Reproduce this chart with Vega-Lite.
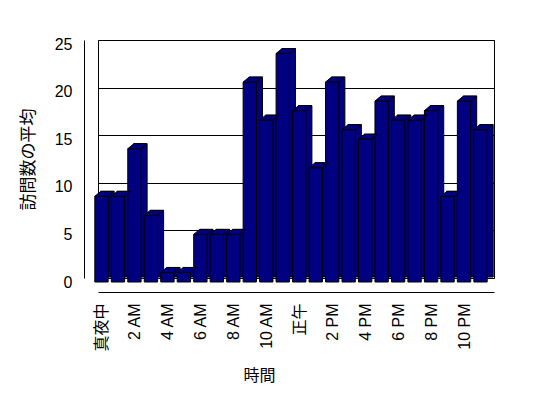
{
  "$schema": "https://vega.github.io/schema/vega-lite/v6.json",
  "autosize": "none",
  "padding": {"left": 98, "top": 40, "right": 54, "bottom": 120},
  "width": 396,
  "height": 238,
  "background": "white",
  "config": {
    "view": {"stroke": "black", "strokeWidth": 1},
    "font": "Liberation Sans, Noto Sans CJK JP"
  },
  "data": {
    "values": [
      {"hour": 0, "visits": 9}, {"hour": 1, "visits": 9}, {"hour": 2, "visits": 14},
      {"hour": 3, "visits": 7}, {"hour": 4, "visits": 1}, {"hour": 5, "visits": 1},
      {"hour": 6, "visits": 5}, {"hour": 7, "visits": 5}, {"hour": 8, "visits": 5},
      {"hour": 9, "visits": 21}, {"hour": 10, "visits": 17}, {"hour": 11, "visits": 24},
      {"hour": 12, "visits": 18}, {"hour": 13, "visits": 12}, {"hour": 14, "visits": 21},
      {"hour": 15, "visits": 16}, {"hour": 16, "visits": 15}, {"hour": 17, "visits": 19},
      {"hour": 18, "visits": 17}, {"hour": 19, "visits": 17}, {"hour": 20, "visits": 18},
      {"hour": 21, "visits": 9}, {"hour": 22, "visits": 19}, {"hour": 23, "visits": 16}
    ]
  },
  "encoding": {
    "x": {
      "field": "hour", "type": "ordinal",
      "scale": {"paddingInner": 0.19, "paddingOuter": 0.11},
      "axis": {
        "title": "時間", "titleFont": "Noto Sans CJK JP", "titleFontSize": 16, "titleFontWeight": "normal", "titleColor": "black",
        "titleX": 161, "titleY": 83, "titleBaseline": "middle",
        "labelAngle": -90, "labelAlign": "right", "labelBaseline": "middle",
        "labelFont": "Liberation Sans, Noto Sans CJK JP",
        "labelFontSize": 16, "labelColor": "black", "labelPadding": 11, "labelOffset": -4,
        "labelExpr": "datum.value % 2 == 0 ? ['真夜中','2 AM','4 AM','6 AM','8 AM','10 AM','正午','2 PM','4 PM','6 PM','8 PM','10 PM'][datum.value / 2] : ''",
        "ticks": false, "domainColor": "black", "offset": 14, "labelOverlap": false
      }
    },
    "y": {
      "field": "visits", "type": "quantitative",
      "scale": {"domain": [0, 25]},
      "axis": {
        "title": "訪問数の平均", "titleFont": "Noto Sans CJK JP", "titleFontSize": 17, "titleFontWeight": "normal", "titleColor": "black",
        "titleX": -56, "titleY": 119, "titleAlign": "center", "titleBaseline": "middle",
        "values": [0, 5, 10, 15, 20, 25],
        "labelFont": "Liberation Sans",
        "labelFontSize": 16, "labelColor": "black", "labelPadding": 12, "labelOffset": 4,
        "ticks": false, "grid": true, "gridColor": "black", "gridOpacity": 1,
        "domainColor": "black", "offset": 14
      }
    }
  },
  "layer": [
    {"mark": {"type": "bar", "color": "#000080", "stroke": "black", "strokeWidth": 1, "xOffset": 1, "yOffset": -1}},
    {"mark": {"type": "bar", "color": "#000080", "stroke": "black", "strokeWidth": 1, "xOffset": -5, "yOffset": 4}},
    {"mark": {"type": "point", "filled": true, "fill": "#000080", "stroke": "black", "strokeWidth": 1, "opacity": 1, "fillOpacity": 1, "strokeOpacity": 1, "size": 4, "xOffset": -5, "yOffset": 4,
      "shape": "M -6.67 0 L -0.67 -5 L 12.67 -5 L 6.67 0 Z"}}
  ]
}
